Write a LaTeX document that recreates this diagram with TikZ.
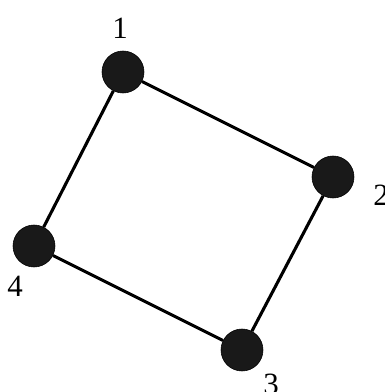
\documentclass[tikz,border=0pt]{standalone}
\usepackage{fontspec}
\setmainfont{Liberation Serif}
\usepackage{tikz}
\usetikzlibrary{positioning}

\begin{document}
\begin{tikzpicture}[
    x=0.025cm, y=-0.025cm,
    vertex/.style={circle, fill=black!90, draw=black, minimum size=1.05cm, inner sep=0pt},
    num/.style={font=\fontsize{22}{26}\selectfont, inner sep=0pt},
    edge/.style={line width=2.2pt}
]
    \useasboundingbox (0,0) rectangle (384,392);

    \node[vertex] (v1) at (123,72) {};
    \node[vertex] (v2) at (333,177) {};
    \node[vertex] (v3) at (242,350) {};
    \node[vertex] (v4) at (34,246) {};

    \node[num] (l1) at (120,28) {1};
    \node[num] (l2) at (381,195) {2};
    \node[num] (l3) at (271,384) {3};
    \node[num] (l4) at (15,286) {4};

    \draw[edge] (v1) -- (v2);
    \draw[edge] (v2) -- (v3);
    \draw[edge] (v3) -- (v4);
    \draw[edge] (v4) -- (v1);
\end{tikzpicture}
\end{document}
